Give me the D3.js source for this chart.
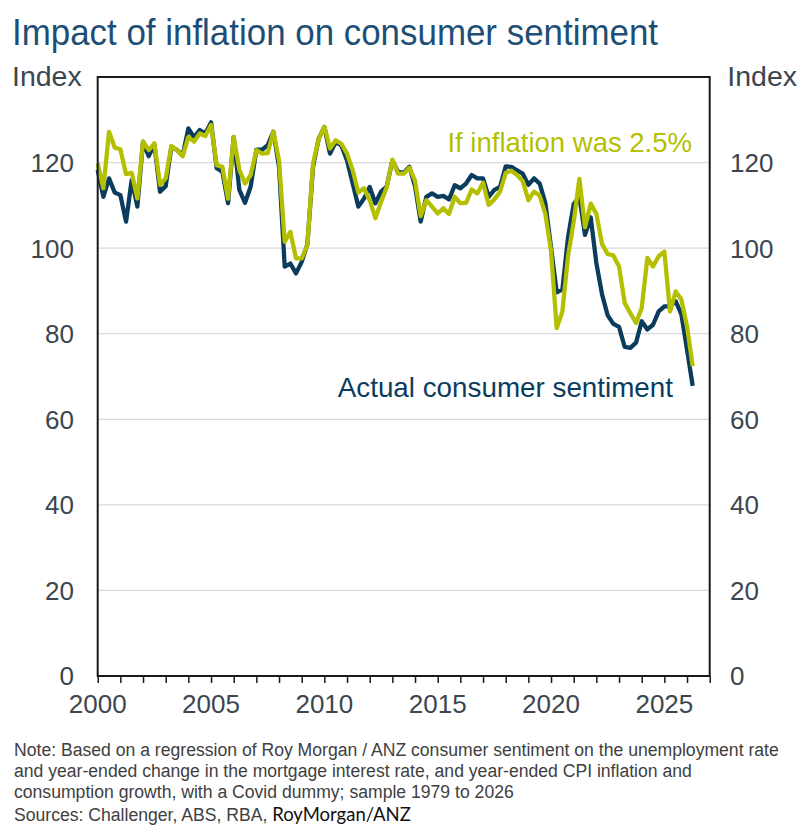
<!DOCTYPE html>
<html><head><meta charset="utf-8">
<script src="https://cdn.jsdelivr.net/npm/d3@7"></script>
<style>html,body{margin:0;padding:0;background:#fff}svg{display:block}</style>
</head><body>
<svg id="chart" width="812" height="836"></svg>
<script>
// Quarter-end observations, Dec-1999 quarter (plotted at 2000.0) to Mar-2026 quarter
const firstPeriod = 2000.0;
const periodStep = 0.25;
const actual = [118.3,112.0,116.3,113.0,112.4,106.2,115.9,109.7,124.9,121.5,124.2,113.2,114.5,123.7,122.9,121.7,128.0,125.9,127.6,126.8,
129.4,118.7,117.9,110.5,126.0,113.6,110.6,114.4,123.0,123.0,124.1,127.2,119.0,95.7,96.4,94.1,96.8,100.9,119.0,125.6,
128.3,122.1,124.8,124.0,120.5,115.1,109.7,111.6,114.3,110.5,113.2,114.4,120.5,117.8,117.6,119.0,114.5,106.2,112.0,112.8,
112.0,112.2,111.4,114.7,114.0,115.1,117.1,116.3,116.3,112.0,113.6,114.3,119.1,119.0,118.2,117.4,114.8,116.3,115.1,110.5,
100.2,89.7,90.3,102.5,110.3,112.0,103.1,107.2,96.5,89.2,84.3,82.3,81.6,76.9,76.7,77.9,82.9,81.0,82.1,85.2,
86.4,86.4,87.6,84.5,76.3,67.8];
const inflation25 = [119.8,114.0,127.2,123.5,123.1,117.3,117.6,111.6,124.9,122.9,124.5,114.8,116.3,123.9,122.9,121.5,126.0,124.9,126.8,126.2,
128.8,119.4,119.0,111.6,126.0,118.3,115.1,117.1,122.9,122.1,122.2,127.2,120.5,101.5,103.8,97.6,97.6,100.7,119.8,125.5,
128.4,123.3,125.2,124.4,122.1,118.2,113.0,114.0,111.2,107.0,110.8,114.2,120.7,117.4,117.4,118.8,115.7,107.5,111.2,109.7,
108.1,109.3,108.0,112.0,110.5,110.6,113.7,112.8,115.3,110.1,111.4,113.2,117.6,118.1,117.1,115.7,111.2,113.2,112.3,108.0,
99.3,81.3,85.2,98.1,106.2,116.2,104.9,110.4,108.0,101.0,98.6,98.3,95.7,87.2,84.8,82.5,86.0,97.7,95.7,98.1,
99.2,85.2,89.9,88.0,81.7,72.4];
const yTicks = [0,20,40,60,80,100,120];
const xLabelYears = [2000,2005,2010,2015,2020,2025];
const xMinorYears = d3.range(2000, 2028);
const titleText = "Impact of inflation on consumer sentiment";
const unitLabel = "Index";
const seriesLabels = ["If inflation was 2.5%", "Actual consumer sentiment"];
const noteLines = [
  "Note: Based on a regression of Roy Morgan / ANZ consumer sentiment on the unemployment rate",
  "and year-ended change in the mortgage interest rate, and year-ended CPI inflation and",
  "consumption growth, with a Covid dummy; sample 1979 to 2026"
];
const sourcesA = "Sources: Challenger, ABS, RBA, ";
const sourcesB = "RoyMorgan/ANZ";

const NAVY = "#0b3c5d", GREEN = "#b4bf00", TEXT = "#3b4650", TITLE = "#1d4f76";
const FONT = "'Liberation Sans', Arial, sans-serif";

const svg = d3.select("#chart");
const L = 97.7, R = 709.7, T = 77, B = 676;
const x = d3.scaleLinear().domain([2000, 2027]).range([L, R]);
const y = d3.scaleLinear().domain([0, 140]).range([B, T]);

// title
svg.append("text").attr("x", 12).attr("y", 45).attr("font-family", FONT)
  .attr("font-size", 37).attr("textLength", 646).attr("lengthAdjust", "spacingAndGlyphs")
  .attr("fill", TITLE).text(titleText);
svg.append("text").attr("x", 12).attr("y", 86).attr("font-family", FONT)
  .attr("font-size", 28.5).attr("fill", TEXT).text(unitLabel);
svg.append("text").attr("x", 797).attr("y", 86).attr("text-anchor", "end").attr("font-family", FONT)
  .attr("font-size", 28.5).attr("fill", TEXT).text(unitLabel);

// gridlines
svg.append("g").selectAll("line").data(yTicks.filter(d => d > 0)).join("line")
  .attr("x1", L).attr("x2", R).attr("y1", d => y(d)).attr("y2", d => y(d))
  .attr("stroke", "#d9d9d9").attr("stroke-width", 1.3);

// y labels
const yl = svg.append("g").attr("font-family", FONT).attr("font-size", 26).attr("fill", TEXT);
yl.selectAll("text.l").data(yTicks).join("text").attr("class", "l")
  .attr("x", 74).attr("y", d => y(d)).attr("dy", "0.36em").attr("text-anchor", "end").text(d => d);
yl.selectAll("text.r").data(yTicks).join("text").attr("class", "r")
  .attr("x", 730).attr("y", d => y(d)).attr("dy", "0.36em").attr("text-anchor", "start").text(d => d);

// lines
const line = d3.line().x((d, i) => x(firstPeriod + i * periodStep)).y(d => y(d));
svg.append("path").datum(actual).attr("d", line).attr("fill", "none")
  .attr("stroke", NAVY).attr("stroke-width", 4.3).attr("stroke-linejoin", "round");
svg.append("path").datum(inflation25).attr("d", line).attr("fill", "none")
  .attr("stroke", GREEN).attr("stroke-width", 4.3).attr("stroke-linejoin", "round");

// frame
svg.append("rect").attr("x", L).attr("y", T).attr("width", R - L).attr("height", B - T)
  .attr("fill", "none").attr("stroke", "#1a1a1a").attr("stroke-width", 2);

// x axis
const xAxis = d3.axisBottom(x).tickValues(xMinorYears).tickSize(7).tickFormat("");
const gx = svg.append("g").attr("transform", `translate(0,${B})`).call(xAxis);
gx.select(".domain").remove();
gx.selectAll(".tick line").attr("stroke", "#1a1a1a").attr("stroke-width", 1.5);
svg.append("g").attr("font-family", FONT).attr("font-size", 26).attr("fill", TEXT)
  .selectAll("text").data(xLabelYears).join("text")
  .attr("x", d => x(d)).attr("y", 713).attr("text-anchor", "middle").text(d => d);

// annotations
svg.append("text").attr("x", 692).attr("y", 152).attr("text-anchor", "end").attr("font-family", FONT)
  .attr("font-size", 27.5).attr("fill", GREEN).text(seriesLabels[0]);
svg.append("text").attr("x", 673).attr("y", 397).attr("text-anchor", "end").attr("font-family", FONT)
  .attr("font-size", 27.8).attr("fill", NAVY).text(seriesLabels[1]);

// notes
const ng = svg.append("g").attr("font-family", FONT).attr("font-size", 17.6).attr("fill", "#404040");
noteLines.forEach((t, i) => ng.append("text").attr("x", 14).attr("y", 756 + i * 21).text(t));
const st = ng.append("text").attr("x", 14).attr("y", 821);
st.append("tspan").text(sourcesA);
st.append("tspan").attr("font-family", "Lato, 'Open Sans', sans-serif").attr("font-size", 18.5).attr("fill", "#111").text(sourcesB);
</script>
</body></html>
